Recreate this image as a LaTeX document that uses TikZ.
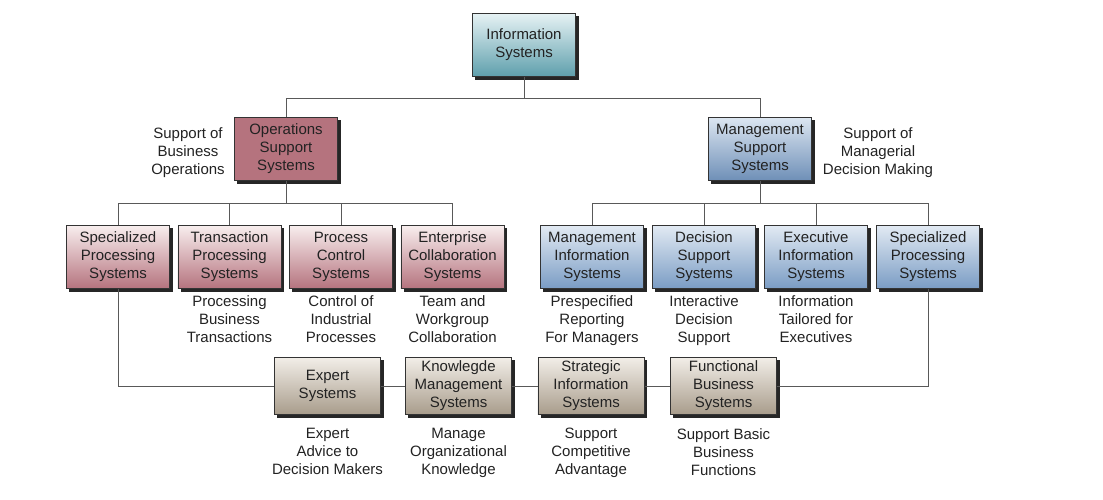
\documentclass[tikz,border=0pt]{standalone}
\usepackage{fontspec}
\setmainfont{Liberation Sans}
\usetikzlibrary{positioning, shadows}

\definecolor{istop}{HTML}{E6F2F4}
\definecolor{isbot}{HTML}{5E9FAC}
\definecolor{opsred}{HTML}{B5737E}
\definecolor{redtop}{HTML}{F8EEEE}
\definecolor{mgttop}{HTML}{DCE6F1}
\definecolor{mgtbot}{HTML}{6E8FB7}
\definecolor{bluetop}{HTML}{E2EAF3}
\definecolor{bluebot}{HTML}{7A9CC4}
\definecolor{tantop}{HTML}{F2EEE8}
\definecolor{tanbot}{HTML}{A89C8B}
\definecolor{ink}{HTML}{222222}

\tikzset{
  sysbox/.style={draw=black!80, line width=0.7pt, rectangle, align=center,
    minimum width=103.3pt, minimum height=63.3pt, inner sep=1pt, text=ink,
    font=\fontsize{15}{18}\selectfont,
    drop shadow={shadow xshift=3pt, shadow yshift=-3pt, fill=black!85, opacity=1}},
  topbox/.style={sysbox, top color=istop, bottom color=isbot},
  opsbox/.style={sysbox, fill=opsred},
  mgtbox/.style={sysbox, top color=mgttop, bottom color=mgtbot},
  redbox/.style={sysbox, top color=redtop, bottom color=opsred},
  bluebox/.style={sysbox, top color=bluetop, bottom color=bluebot},
  tanbox/.style={sysbox, top color=tantop, bottom color=tanbot,
    minimum width=106.3pt, minimum height=57.3pt},
  desc/.style={align=center, text=ink, inner sep=0pt,
    font=\fontsize{15}{18}\selectfont},
  link/.style={draw=black!65, line width=0.8pt}
}

\begin{document}
\begin{tikzpicture}[x=1pt, y=1pt]
\useasboundingbox (0,0) rectangle (1103,-500);

% top levels
\node[topbox] (IS) at (524,-45) {Information\\Systems};
\node[opsbox] (OSS) at (286,-149) {Operations\\Support\\Systems};
\node[mgtbox] (MSS) at (760,-149) {Management\\Support\\Systems};
\node[desc] (opsnote) at (188,-153) {Support of\\Business\\Operations};
\node[desc] (mgtnote) at (878,-153) {Support of\\Managerial\\Decision Making};

% operations side
\node[redbox] (SPSl) at (118,-257) {Specialized\\Processing\\Systems};
\node[redbox, right=7.5pt of SPSl] (TPS) {Transaction\\Processing\\Systems};
\node[redbox, right=7.5pt of TPS] (PCS) {Process\\Control\\Systems};
\node[redbox, right=7.5pt of PCS] (ECS) {Enterprise\\Collaboration\\Systems};

% management side
\node[bluebox] (MIS) at (592,-257) {Management\\Information\\Systems};
\node[bluebox, right=8pt of MIS] (DSS) {Decision\\Support\\Systems};
\node[bluebox, right=8pt of DSS] (EIS) {Executive\\Information\\Systems};
\node[bluebox, right=8pt of EIS] (SPSr) {Specialized\\Processing\\Systems};

\node[desc, below=6pt of TPS] (TPSd) {Processing\\Business\\Transactions};
\node[desc, below=6pt of PCS] (PCSd) {Control of\\Industrial\\Processes};
\node[desc, below=6pt of ECS] (ECSd) {Team and\\Workgroup\\Collaboration};
\node[desc, below=6pt of MIS] (MISd) {Prespecified\\Reporting\\For Managers};
\node[desc, below=6pt of DSS] (DSSd) {Interactive\\Decision\\Support};
\node[desc, below=6pt of EIS] (EISd) {Information\\Tailored for\\Executives};

% bottom row
\node[tanbox] (ES) at (327.5,-386) {Expert\\Systems};
\node[tanbox, right=24pt of ES] (KMS) {Knowlegde\\Management\\Systems};
\node[tanbox, right=25.5pt of KMS] (SIS) {Strategic\\Information\\Systems};
\node[tanbox, right=25.5pt of SIS] (FBS) {Functional\\Business\\Systems};

\node[desc, below=13pt of ES] (ESd) {Expert\\Advice to\\Decision Makers};
\node[desc, below=13pt of KMS] (KMSd) {Manage\\Organizational\\Knowledge};
\node[desc, below=13pt of SIS] (SISd) {Support\\Competitive\\Advantage};
\node[desc, below=13pt of FBS] (FBSd) {Support Basic\\Business\\Functions};

% connectors
\coordinate (bus0) at (524,-98);
\coordinate (busL) at (286,-203);
\coordinate (busR) at (760,-203);
\draw[link] (IS.south) -- (bus0) -| (OSS.north);
\draw[link] (bus0) -| (MSS.north);
\draw[link] (OSS.south) -- (busL);
\draw[link] (MSS.south) -- (busR);
\foreach \n in {SPSl, TPS, PCS, ECS}
  \draw[link] (busL) -| (\n.north);
\foreach \n in {MIS, DSS, EIS, SPSr}
  \draw[link] (busR) -| (\n.north);
\draw[link] (SPSl.south) |- (ES.west);
\draw[link] (ES.east) -- (KMS.west);
\draw[link] (KMS.east) -- (SIS.west);
\draw[link] (SIS.east) -- (FBS.west);
\draw[link] (FBS.east) -| (SPSr.south);
\end{tikzpicture}
\end{document}
